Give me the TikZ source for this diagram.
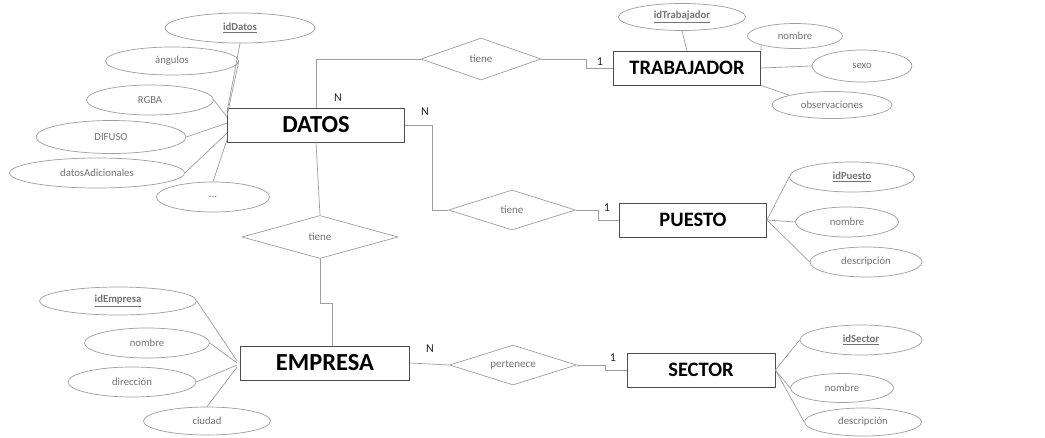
\documentclass[tikz,border=0pt]{standalone}
\usepackage{fontspec}
\setmainfont{Carlito}
\usetikzlibrary{shapes.geometric,calc}
\definecolor{ln}{gray}{0.62}
\definecolor{tx}{gray}{0.45}
\tikzset{
  ent/.style={draw=black!70, line width=0.8pt, minimum width=#1, minimum height=34pt, inner sep=0pt, font=\fontsize{20.5}{21}\selectfont\bfseries},
  bigent/.style={font=\fontsize{24.5}{25}\selectfont\bfseries},
  attr/.style={draw=ln, ellipse, line width=0.7pt, inner sep=0pt, text=tx, font=\fontsize{10.7}{11}\selectfont},
  rel/.style={draw=ln, diamond, aspect=3, line width=0.7pt, inner sep=0pt, text=tx, font=\fontsize{11}{12}\selectfont},
  conn/.style={draw=ln, line width=0.7pt},
  card/.style={font=\fontsize{12}{13}\selectfont, text=black!85, inner sep=0pt}
}
\begin{document}
\begin{tikzpicture}[x=1pt,y=-1pt]
\useasboundingbox[fill=white] (0,0) rectangle (1045,437);
% entities
\node[ent=177pt, bigent] (datos) at (316,125) {DATOS};
\node[ent=147pt] (trab) at (687,68) {TRABAJADOR};
\node[ent=147pt] (puesto) at (693,220) {PUESTO};
\node[ent=169pt, bigent] (empresa) at (325,363) {EMPRESA};
\node[ent=148pt] (sector) at (701,370) {SECTOR};
% relationships
\node[rel, minimum width=120pt, minimum height=42pt] (t1) at (481,59) {tiene};
\node[rel, minimum width=127pt, minimum height=40pt] (t2) at (512,210) {tiene};
\node[rel, minimum width=156pt, minimum height=43pt] (t3) at (320,237) {tiene};
\node[rel, minimum width=127pt, minimum height=40pt] (per) at (513,365) {pertenece};
% DATOS attributes
\node[attr, minimum width=150pt, minimum height=30pt] (idd) at (240,28) {\textbf{\underline{idDatos}}};
\node[attr, minimum width=133pt, minimum height=28pt] (ang) at (172,61) {ángulos};
\node[attr, minimum width=127pt, minimum height=30pt] (rgba) at (150,100) {RGBA};
\node[attr, minimum width=150pt, minimum height=33pt] (dif) at (111,137) {DIFUSO};
\node[attr, minimum width=175pt, minimum height=30pt] (dad) at (97,173) {datosAdicionales};
\node[attr, minimum width=113pt, minimum height=30pt] (dots) at (213,197) {...};
% TRABAJADOR attributes
\node[attr, minimum width=127pt, minimum height=27pt] (idt) at (682,17) {\textbf{\underline{idTrabajador}}};
\node[attr, minimum width=95pt, minimum height=25pt] (tnom) at (795,36) {nombre};
\node[attr, minimum width=100pt, minimum height=32pt] (tsex) at (862,66) {sexo};
\node[attr, minimum width=120pt, minimum height=27pt] (tobs) at (832,105) {observaciones};
% PUESTO attributes
\node[attr, minimum width=125pt, minimum height=30pt] (idp) at (852,177) {\textbf{\underline{idPuesto}}};
\node[attr, minimum width=103pt, minimum height=30pt] (pnom) at (847,222) {nombre};
\node[attr, minimum width=112pt, minimum height=30pt] (pdes) at (866,262) {descripción};
% SECTOR attributes
\node[attr, minimum width=122pt, minimum height=30pt] (ids) at (861,340) {\textbf{\underline{idSector}}};
\node[attr, minimum width=103pt, minimum height=29pt] (snom) at (842,388) {nombre};
\node[attr, minimum width=117pt, minimum height=28pt] (sdes) at (863,422) {descripción};
% EMPRESA attributes
\node[attr, minimum width=157pt, minimum height=28pt] (ide) at (118,301) {\textbf{\underline{idEmpresa}}};
\node[attr, minimum width=125pt, minimum height=30pt] (enom) at (147,343) {nombre};
\node[attr, minimum width=128pt, minimum height=30pt] (edir) at (132,382) {dirección};
\node[attr, minimum width=127pt, minimum height=28pt] (eciu) at (207,421) {ciudad};
% relationship connectors
\draw[conn] (datos.north) |- (t1.west);
\draw[conn] (t1.east) -- ++(45,0) |- (trab.west);
\draw[conn] (datos.east) -- ++(27,0) |- (t2.west);
\draw[conn] (t2.east) -- ++(22,0) |- (puesto.west);
\draw[conn] (datos.south) -- (t3.north);
\coordinate (ein) at ($(empresa.north)+(7,0)$);
\draw[conn] (t3.south) -- ++(0,44) -| (ein);
\draw[conn] (empresa.east) -- (per.west);
\draw[conn] (per.east) -- ++(28,0) |- (sector.west);
% cardinalities
\node[card] (c1) at (338,98) {N};
\node[card] (c2) at (600,62) {1};
\node[card] (c3) at (425,112) {N};
\node[card] (c4) at (607,208) {1};
\node[card] (c5) at (430,349) {N};
\node[card] (c6) at (613,358) {1};
% attribute connectors
\draw[conn] (idd.south) -- ($(datos.north west)+(0,4)$);
\draw[conn] (ang.east) -- ($(datos.north west)+(0,8)$);
\draw[conn] (rgba.east) -- ($(datos.west)+(0,-8)$);
\draw[conn] (dif.east) -- ($(datos.west)+(0,-2)$);
\draw[conn] (dad.east) -- ($(datos.west)+(0,8)$);
\draw[conn] (dots.north) -- ($(datos.south west)+(0,-3)$);
\draw[conn] (idt.south) -- (trab.north);
\draw[conn] (tnom.south west) -- (trab.north east);
\draw[conn] (tsex.west) -- (trab.east);
\draw[conn] (tobs.north west) -- (trab.south east);
\draw[conn] (idp.west) -- (puesto.east);
\draw[conn] (pnom.west) -- (puesto.east);
\draw[conn] (pdes.west) -- (puesto.east);
\draw[conn] (ids.west) -- (sector.east);
\draw[conn] (snom.west) -- (sector.east);
\draw[conn] (sdes.west) -- (sector.east);
\draw[conn] (ide.east) -- ($(empresa.west)+(-3,-2)$);
\draw[conn] (enom.east) -- ($(empresa.west)+(-3,0)$);
\draw[conn] (edir.east) -- ($(empresa.west)+(-3,2)$);
\draw[conn] (eciu.north) -- ($(empresa.west)+(-3,4)$);
\end{tikzpicture}
\end{document}
